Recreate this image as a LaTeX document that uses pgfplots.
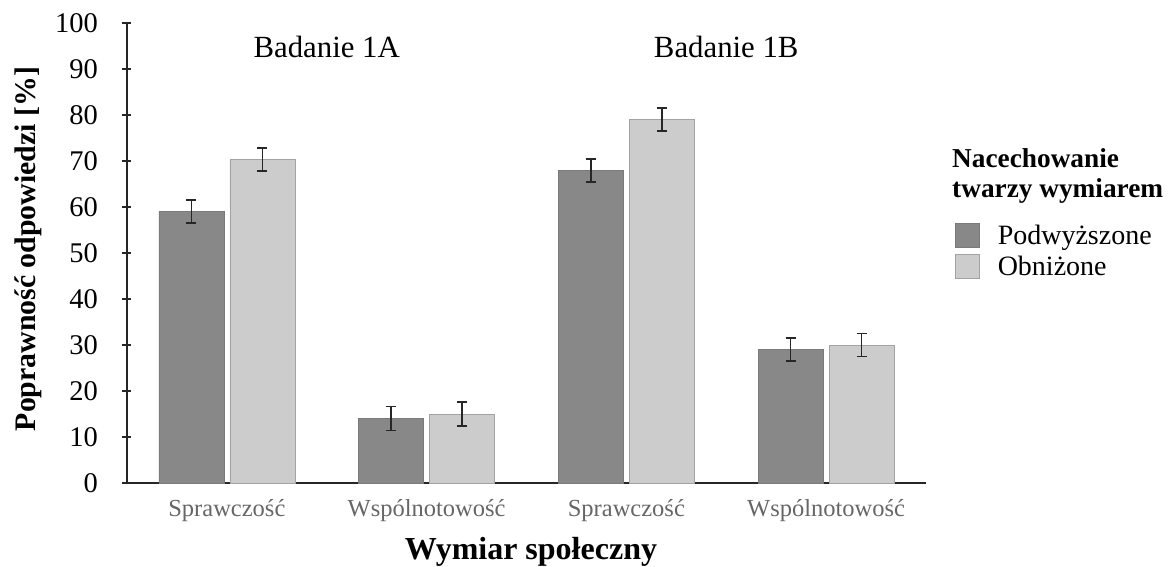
\documentclass[border=0pt]{standalone}
\usepackage{pgfplots}
\pgfplotsset{compat=1.18}
\usepackage{fontspec}
\setmainfont{Liberation Serif}
\definecolor{darkbar}{HTML}{888888}
\definecolor{lightbar}{HTML}{CCCCCC}
\definecolor{catgray}{HTML}{666666}
\begin{document}
\begin{tikzpicture}[x=1pt,y=1pt]
\useasboundingbox (-127,-83) rectangle (1041,483);
\begin{axis}[at={(0,0)}, anchor=south west, scale only axis,
  width=799pt, height=460pt,
  xmin=-0.5, xmax=3.5, ymin=0, ymax=100,
  axis x line=bottom, axis y line=left,
  axis line style={-, line width=1.3pt, black!85},
  ybar, bar width=65pt,
  ytick={0,10,...,100},
  xtick={0,1,2,3},
  xticklabels={Sprawczość,Wspólnotowość,Sprawczość,Wspólnotowość},
  x tick style={draw=none},
  ytick style={line width=1.1pt, black!85},
  tick align=center, major tick length=9pt,
  /pgf/number format/assume math mode=true,
  yticklabel style={font=\fontsize{28.5}{30}\selectfont, xshift=-21pt},
  xticklabel style={font=\fontsize{24.5}{28}\selectfont, text=catgray, yshift=-8pt},
  clip=false,
  legend style={at={(1.0325,0.57)}, anchor=north west, draw=none, fill=none,
    font=\fontsize{28}{30}\selectfont, row sep=6pt,
    cells={anchor=west}},
  legend image code/.code={\draw[#1] (0pt,-12pt) rectangle (24pt,12pt); \path (40pt,0pt);},
  error bars/error bar style={line width=1.7pt, black!85},
  error bars/error mark options={rotate=90, mark size=5pt, line width=1.7pt, black!85},
]
\addplot[fill=darkbar, draw=darkbar!90!black, line width=0.6pt, bar shift=-35.5pt,
  error bars/.cd, y dir=both, y explicit]
  coordinates {(0,59) +- (0,2.5) (1,14) +- (0,2.6) (2,68) +- (0,2.5) (3,29) +- (0,2.5)};
\addlegendentry{Podwyższone}
\addplot[fill=lightbar, draw=lightbar!80!black, line width=0.6pt, bar shift=35.5pt,
  error bars/.cd, y dir=both, y explicit]
  coordinates {(0,70.3) +- (0,2.5) (1,15) +- (0,2.6) (2,79) +- (0,2.5) (3,30) +- (0,2.5)};
\addlegendentry{Obniżone}
\node[anchor=base, font=\fontsize{30.8}{32}\selectfont] at (axis cs:0.5,92.6) {Badanie 1A};
\node[anchor=base, font=\fontsize{30.8}{32}\selectfont] at (axis cs:2.5,92.6) {Badanie 1B};
\end{axis}
\node[rotate=90, font=\bfseries\fontsize{29.8}{32}\selectfont] at (-99,234) {Poprawność odpowiedzi [\%]};
\node[anchor=base, font=\bfseries\fontsize{32}{34}\selectfont] at (404,-76) {Wymiar społeczny};
\node[anchor=north west, align=left, inner sep=0pt, font=\bfseries\fontsize{27.3}{30}\selectfont] at (825,335) {Nacechowanie\\twarzy wymiarem};
\end{tikzpicture}
\end{document}
